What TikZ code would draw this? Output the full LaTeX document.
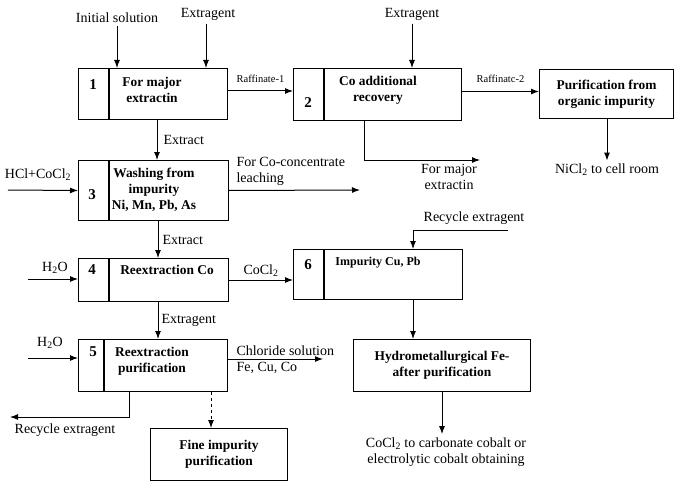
\documentclass[tikz,border=0pt]{standalone}
\usepackage{fontspec}
\setmainfont{Liberation Serif}
\usetikzlibrary{positioning,arrows.meta}
\tikzset{
  cell/.style 2 args={draw, minimum width=#1, minimum height=#2, inner sep=0pt, anchor=north west},
  lbl/.style={font=\fontsize{14}{16}\selectfont, inner sep=3pt, align=center},
  smalllbl/.style={font=\fontsize{10.5}{12}\selectfont, inner sep=2pt},
  boxtxt/.style={font=\bfseries\fontsize{13.4}{16}\selectfont, inner sep=0pt, align=center},
  numtxt/.style={font=\bfseries\fontsize{15}{16}\selectfont, inner sep=0pt}
}
\begin{document}
\begin{tikzpicture}[x=1pt, y=-1pt, line width=1pt, >={Latex[length=8pt,width=6pt]}]
\useasboundingbox (0,0) rectangle (675,487);
% Stage 1
\node[cell={30pt}{51pt}] (n1) at (78,68) {};
\node[cell={118pt}{51pt}, right=0pt of n1] (c1) {};
\node[numtxt] (k1) at (93,85) {1};
\node[boxtxt] (t1) at (152,90) {For major\\extractin};
\node[lbl] (init) at (117,18) {Initial solution};
\node[lbl] (ext1) at (208,14) {Extragent};
\draw[->] (init.south) -- (init.south |- c1.north);
\draw[->] ([xshift=-2pt]ext1.south) -- ([xshift=-2pt]ext1.south |- c1.north);
% Stage 2
\node[cell={30pt}{52pt}] (n2) at (293,68) {};
\node[cell={137pt}{52pt}, right=0pt of n2] (c2) {};
\node[numtxt] (k2) at (308,103) {2};
\node[boxtxt] (t2) at (378,90) {Co additional\\recovery};
\node[lbl] (ext2) at (412,14) {Extragent};
\draw[->] (ext2.south) -- (ext2.south |- c2.north);
\draw[->] ([yshift=3pt]c1.east) -- ([yshift=3pt]c1.east -| n2.west)
  node[midway, above=6pt, smalllbl] {Raffinate-1};
% Purification from organic impurity
\node[cell={134pt}{49pt}, boxtxt] (org) at (539,69) {Purification from\\organic impurity};
\draw[->] ([yshift=3pt]c2.east) -- ([yshift=3pt]c2.east -| org.west)
  node[midway, above=6pt, smalllbl] {Raffinatc-2};
\node[lbl] (nicl) at (607,170) {NiCl\textsubscript{2} to cell room};
\draw[->] (org.south -| nicl.north) -- (nicl.north);
\coordinate (fm) at (480,160);
\draw[->] ([xshift=40pt]c2.south west) |- (fm);
\node[lbl] (fmlbl) at (449,177) {For major\\extractin};
% Stage 3
\node[cell={30pt}{60pt}] (n3) at (78,160) {};
\node[cell={119pt}{60pt}, right=0pt of n3] (c3) {};
\node[numtxt] (k3) at (92,195) {3};
\node[boxtxt] (t3) at (154,190) {Washing from\\impurity\\Ni, Mn, Pb, As};
\draw[->] ([xshift=48pt]c1.south west) -- ([xshift=48pt]c1.south west |- c3.north)
  node[midway, right=6pt, lbl, inner sep=0pt] {Extract};
\coordinate (hcl) at (8,190);
\draw[->] (hcl) -- (n3.west);
\node[lbl] (hcllbl) at (38,175) {HCl+CoCl\textsubscript{2}};
\coordinate (lea) at (360,190);
\draw[->] (c3.east) -- (lea);
\node[lbl, align=left, anchor=north west] (lealbl) at (233,154) {For Co-concentrate\\leaching};
% Stage 4
\node[cell={30pt}{43pt}] (n4) at (78,258) {};
\node[cell={119pt}{43pt}, right=0pt of n4] (c4) {};
\node[numtxt] (k4) at (92,270) {4};
\node[boxtxt] (t4) at (167,270) {Reextraction Co};
\draw[->] ([xshift=49pt]c3.south west) -- ([xshift=49pt]c3.south west |- c4.north)
  node[midway, right=4pt, lbl, inner sep=0pt] {Extract};
\coordinate (w4) at (28,279);
\draw[->] (w4) -- (w4 -| n4.west);
\node[lbl] (w4lbl) at (55,268) {H\textsubscript{2}O};
% Stage 6
\node[cell={30pt}{50pt}] (n6) at (293,249) {};
\node[cell={138pt}{50pt}, right=0pt of n6] (c6) {};
\node[numtxt] (k6) at (308,265) {6};
\node[boxtxt, font=\bfseries\fontsize{12}{14}\selectfont] (t6) at (378,263) {Impurity Cu, Pb};
\draw[->] (c4.east) -- (c4.east -| n6.west)
  node[midway, above=3pt, lbl, inner sep=0pt] {CoCl\textsubscript{2}};
\coordinate (rc) at (508,230);
\draw[->] (rc) -| ([xshift=89pt]c6.north west);
\node[lbl] (rclbl) at (474,218) {Recycle extragent};
% Hydrometallurgical purification
\node[cell={177pt}{52pt}, boxtxt] (hyd) at (353,339) {Hydrometallurgical Fe-\\after purification};
\draw[->] ([xshift=89pt]c6.south west) -- ([xshift=89pt]c6.south west |- hyd.north);
\node[lbl] (fin) at (446,452) {CoCl\textsubscript{2} to carbonate cobalt or\\electrolytic cobalt obtaining};
\draw[->] ([xshift=89pt]hyd.south west) -- ([xshift=89pt]hyd.south west |- fin.north);
% Stage 5
\node[cell={25pt}{52pt}] (n5) at (78,339) {};
\node[cell={123pt}{52pt}, right=0pt of n5] (c5) {};
\node[numtxt] (k5) at (93,352) {5};
\node[boxtxt] (t5) at (152,361) {Reextraction\\purification};
\draw[->] ([xshift=49pt]c4.south west) -- ([xshift=49pt]c4.south west |- c5.north)
  node[midway, right=3pt, lbl, inner sep=0pt] {Extragent};
\coordinate (w5) at (28,358);
\draw[->] (w5) -- (w5 -| n5.west);
\node[lbl] (w5lbl) at (50,343) {H\textsubscript{2}O};
\coordinate (cl) at (323,359);
\draw[->] (c5.east |- cl) -- (cl);
\node[lbl, align=left, anchor=west] (cllbl) at (233,360) {Chloride solution\\Fe, Cu, Co};
\coordinate (rb) at (10,417);
\draw[->] ([xshift=25pt]c5.south west) |- (rb);
\node[lbl] (rblbl) at (65,430) {Recycle extragent};
% Fine impurity purification
\node[cell={137pt}{52pt}, boxtxt] (fine) at (150,428) {Fine impurity\\purification};
\draw[->, dashed] ([xshift=107pt]c5.south west) -- ([xshift=107pt]c5.south west |- fine.north);
\end{tikzpicture}
\end{document}
